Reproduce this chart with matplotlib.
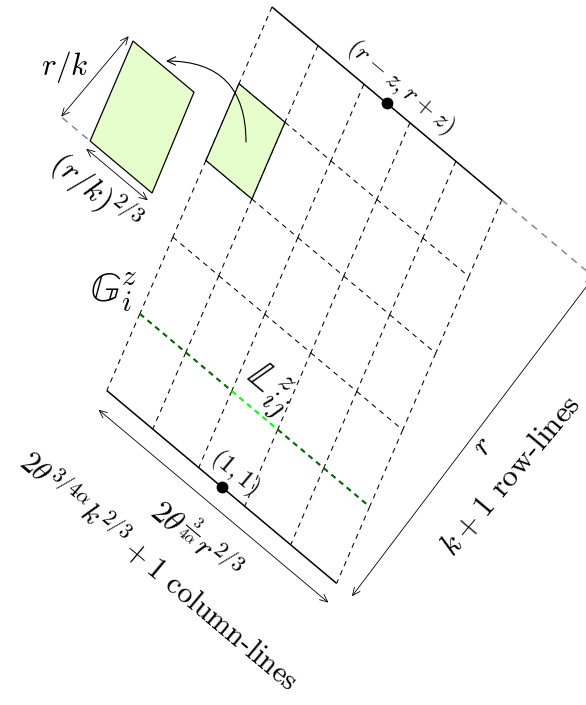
import matplotlib
matplotlib.use("Agg")
import matplotlib.pyplot as plt
from matplotlib.transforms import Affine2D
from matplotlib.patches import Polygon, FancyArrowPatch

plt.rcParams["mathtext.fontset"] = "cm"
plt.rcParams["font.family"] = ["cmr10", "DejaVu Serif"]
plt.rcParams["axes.formatter.use_mathtext"] = True

# grid: k columns x k rows
grid_cols = [0, 1, 2, 3, 4, 5]
grid_rows = [0, 1, 2, 3, 4, 5]
marked_cell = (0, 1)          # (col, row) of the highlighted small cell
strip_row = 4                 # row-line G_i^z
strip_col = 2                 # segment L_ij^z
dots = [(2.5, 0), (2.5, 5)]
dot_labels = [r"$(r-z,r+z)$", r"$(1,1)$"]

# geometry (pixels in the rotated frame)
col_w, row_h, slant = 60, 80, 24
origin = (272, 7)
angle = 40

fig = plt.figure(figsize=(5.86, 7.05), dpi=100)
ax = fig.add_axes([0, 0, 1, 1])
ax.set_xlim(0, 586)
ax.set_ylim(705, 0)
ax.axis("off")

loc = Affine2D().rotate_deg(angle).translate(*origin) + ax.transData
grid = Affine2D.from_values(col_w, 0, slant, row_h, 0, 0) + loc

dash = dict(color="k", lw=0.75, dashes=(5, 4.5))
# column lines
for c in grid_cols:
    for r in grid_rows[:-1]:
        ax.plot([c, c], [r, r + 1], transform=grid, **dash)
# row lines (inner)
for r in grid_rows[1:-1]:
    if r == strip_row:
        continue
    for c in grid_cols[:-1]:
        ax.plot([c, c + 1], [r, r], transform=grid, **dash)
# highlighted row
for c in grid_cols[:-1]:
    col = "#00ff00" if c == strip_col else "#006400"
    ax.plot([c, c + 1], [strip_row, strip_row], transform=grid,
            color=col, lw=1.5, dashes=(2.6, 2.2), zorder=3)
# solid top and bottom
for r in (grid_rows[0], grid_rows[-1]):
    ax.plot([grid_cols[0], grid_cols[-1]], [r, r], transform=grid,
            color="k", lw=1.1, solid_capstyle="butt", zorder=3)
# grey extension of top line
ax.plot([grid_cols[-1], 7.5], [0, 0], transform=grid, color="#888888",
        lw=1.1, dashes=(4.5, 4))

# small green cell
mc, mr = marked_cell
ax.add_patch(Polygon([(mc, mr), (mc + 1, mr), (mc + 1, mr + 1), (mc, mr + 1)],
                     closed=True, transform=grid, facecolor="#e6fdcc",
                     edgecolor="k", lw=0.9, zorder=4))

# enlarged cell
big = [(-84.6, 115.4), (-5.0, 115.4), (27.7, 219.6), (-53.2, 219.6)]
ax.add_patch(Polygon(big, closed=True, transform=loc, facecolor="#e6fdcc",
                     edgecolor="k", lw=0.9, zorder=4))
ax.plot([-89.5, -53.2], [219.6, 219.6], transform=loc, color="#888888",
        lw=1.1, dashes=(4.5, 4))

# dimension arrows
def dim(p, q, style="<->"):
    a = FancyArrowPatch(p, q, transform=loc, arrowstyle=style,
                        mutation_scale=10, lw=0.6, color="k",
                        shrinkA=0, shrinkB=0, zorder=5)
    a.set_arrowstyle(style, head_length=0.55, head_width=0.25)
    ax.add_patch(a)

dim((-91, 219.5), (-91, 114.5))
dim((-51.2, 228), (29.1, 228))
dim((126, 420), (426, 420))
dim((440, 400), (420, 0))

# curved arrow from small cell to the enlarged one
arc = FancyArrowPatch((246, 142), (166, 61), arrowstyle="->",
                      connectionstyle="angle3,angleA=90,angleB=0",
                      mutation_scale=10, lw=0.8, color="k",
                      shrinkA=0, shrinkB=0, zorder=6)
arc.set_arrowstyle("->", head_length=0.6, head_width=0.3)
ax.add_patch(arc)

# dots and their labels
for (c, r), lab, off in zip(dots, dot_labels, [(150, -21), (271, 381)]):
    ax.plot([c], [r], "o", ms=7.5, color="k", transform=grid, zorder=7)
    ax.text(*off, lab, transform=loc, rotation=-angle, rotation_mode="anchor",
            ha="center", va="center", fontsize=18)

big_fs = 22.5
bb_fs = 30
ax.text(-120, 179, r"$r/k$", transform=loc, ha="center", va="center",
        fontsize=big_fs)
ax.text(-16, 256, r"$(r/k)^{2/3}$", transform=loc, rotation=-angle,
        rotation_mode="anchor", ha="center", va="center", fontsize=big_fs)
ax.text(61.5, 320.5, r"$\mathbb{G}_i^z$", transform=loc, ha="center",
        va="center", fontsize=bb_fs)
ax.text(243, 296, r"$\mathbb{L}_{ij}^z$", transform=loc, rotation=-angle,
        rotation_mode="anchor", ha="center", va="center", fontsize=bb_fs)
ax.text(284, 457, r"$2\theta^{\frac{3}{4\alpha}}r^{2/3}$", transform=loc,
        rotation=-angle, rotation_mode="anchor", ha="center", va="center",
        fontsize=big_fs)
ax.text(276, 504, r"$2\theta^{3/4\alpha}k^{2/3}+1$ column-lines", transform=loc,
        rotation=-angle, rotation_mode="anchor", ha="center", va="center",
        fontsize=21.5)
ax.text(444, 201, r"$r$", transform=loc, rotation=90 - angle,
        rotation_mode="anchor", ha="center", va="center", fontsize=big_fs)
ax.text(484, 206, r"$k+1$ row-lines", transform=loc, rotation=90 - angle,
        rotation_mode="anchor", ha="center", va="center", fontsize=big_fs)

fig.savefig("out.png", dpi=100)
